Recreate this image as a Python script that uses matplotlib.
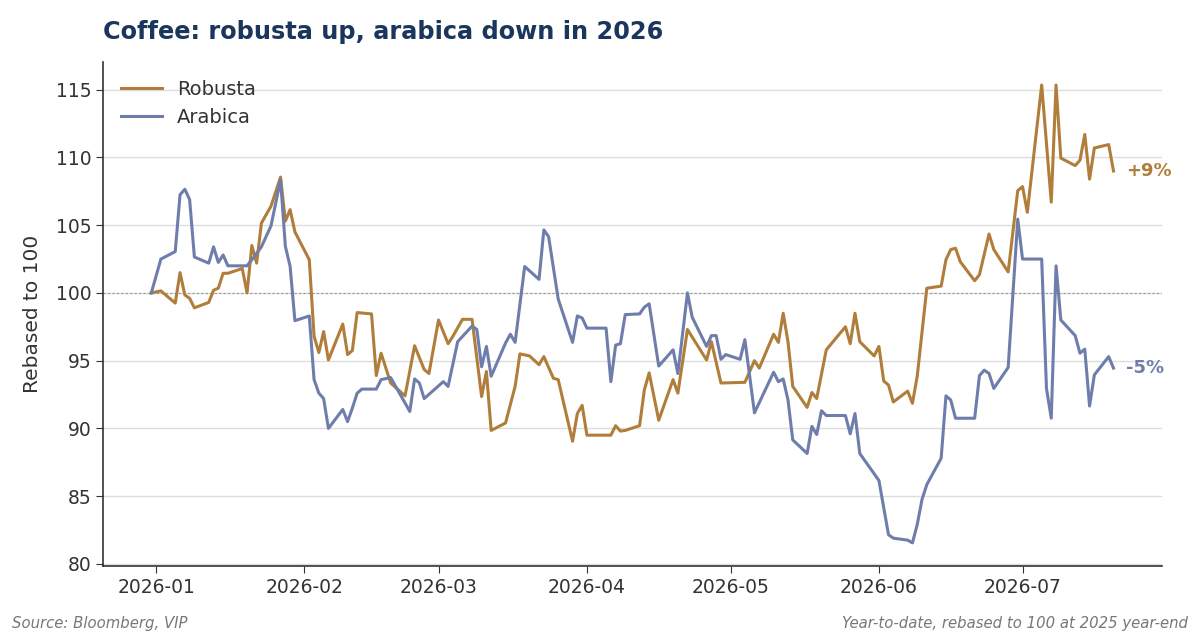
import matplotlib
matplotlib.use("Agg")
import matplotlib.pyplot as plt
import matplotlib.dates as mdates
import numpy as np

# Year-to-date, rebased to 100 at 2025 year-end
robusta_dates = [
    "2025-12-31", "2026-01-02", "2026-01-05", "2026-01-06", "2026-01-07", "2026-01-08",
    "2026-01-09", "2026-01-12", "2026-01-13", "2026-01-14", "2026-01-15", "2026-01-16",
    "2026-01-19", "2026-01-20", "2026-01-21", "2026-01-22", "2026-01-23", "2026-01-25",
    "2026-01-27", "2026-01-28", "2026-01-29", "2026-01-30", "2026-02-02", "2026-02-03",
    "2026-02-04", "2026-02-05", "2026-02-06", "2026-02-09", "2026-02-10", "2026-02-11",
    "2026-02-12", "2026-02-15", "2026-02-16", "2026-02-17", "2026-02-19", "2026-02-22",
    "2026-02-24", "2026-02-26", "2026-02-27", "2026-03-01", "2026-03-03", "2026-03-04",
    "2026-03-06", "2026-03-08", "2026-03-10", "2026-03-11", "2026-03-12", "2026-03-15",
    "2026-03-17", "2026-03-18", "2026-03-20", "2026-03-22", "2026-03-23", "2026-03-25",
    "2026-03-26", "2026-03-29", "2026-03-30", "2026-03-31", "2026-04-01", "2026-04-06",
    "2026-04-07", "2026-04-08", "2026-04-09", "2026-04-12", "2026-04-13", "2026-04-14",
    "2026-04-16", "2026-04-19", "2026-04-20", "2026-04-22", "2026-04-26", "2026-04-27",
    "2026-04-29", "2026-05-04", "2026-05-06", "2026-05-07", "2026-05-10", "2026-05-11",
    "2026-05-12", "2026-05-13", "2026-05-14", "2026-05-17", "2026-05-18", "2026-05-19",
    "2026-05-21", "2026-05-25", "2026-05-26", "2026-05-27", "2026-05-28", "2026-05-31",
    "2026-06-01", "2026-06-02", "2026-06-03", "2026-06-04", "2026-06-07", "2026-06-08",
    "2026-06-09", "2026-06-11", "2026-06-14", "2026-06-15", "2026-06-16", "2026-06-17",
    "2026-06-18", "2026-06-21", "2026-06-22", "2026-06-24", "2026-06-25", "2026-06-28",
    "2026-06-30", "2026-07-01", "2026-07-02", "2026-07-05", "2026-07-07", "2026-07-08",
    "2026-07-09", "2026-07-12", "2026-07-13", "2026-07-14", "2026-07-15", "2026-07-16",
    "2026-07-19", "2026-07-20",
]
robusta = [
    100.0, 100.15, 99.25, 101.5, 99.85, 99.6,
    98.9, 99.3, 100.2, 100.35, 101.45, 101.45,
    101.8, 100.0, 103.5, 102.2, 105.15, 106.4,
    108.55, 105.3, 106.15, 104.5, 102.45, 96.8,
    95.6, 97.15, 95.05, 97.7, 95.45, 95.75,
    98.55, 98.45, 93.9, 95.55, 93.35, 92.4,
    96.1, 94.35, 94.05, 98.0, 96.25, 96.8,
    98.05, 98.05, 92.35, 94.2, 89.85, 90.4,
    93.1, 95.5, 95.35, 94.7, 95.3, 93.7,
    93.6, 89.05, 91.1, 91.7, 89.5, 89.5,
    90.2, 89.8, 89.85, 90.2, 92.85, 94.1,
    90.6, 93.6, 92.6, 97.3, 95.05, 96.4,
    93.35, 93.4, 95.0, 94.45, 96.95, 96.35,
    98.5, 96.4, 93.1, 91.55, 92.65, 92.2,
    95.8, 97.5, 96.25, 98.5, 96.4, 95.35,
    96.05, 93.5, 93.2, 91.95, 92.75, 91.85,
    93.85, 100.35, 100.5, 102.45, 103.2, 103.3,
    102.3, 100.9, 101.35, 104.35, 103.2, 101.55,
    107.55, 107.85, 105.95, 115.35, 106.7, 115.35,
    109.95, 109.4, 109.8, 111.7, 108.4, 110.7,
    110.95, 109.0,
]

arabica_dates = [
    "2025-12-31", "2026-01-02", "2026-01-05", "2026-01-06", "2026-01-07", "2026-01-08",
    "2026-01-09", "2026-01-12", "2026-01-13", "2026-01-14", "2026-01-15", "2026-01-16",
    "2026-01-20", "2026-01-21", "2026-01-23", "2026-01-25", "2026-01-27", "2026-01-28",
    "2026-01-29", "2026-01-30", "2026-02-02", "2026-02-03", "2026-02-04", "2026-02-05",
    "2026-02-06", "2026-02-09", "2026-02-10", "2026-02-11", "2026-02-12", "2026-02-13",
    "2026-02-16", "2026-02-17", "2026-02-19", "2026-02-23", "2026-02-24", "2026-02-25",
    "2026-02-26", "2026-03-02", "2026-03-03", "2026-03-04", "2026-03-05", "2026-03-08",
    "2026-03-09", "2026-03-10", "2026-03-11", "2026-03-12", "2026-03-15", "2026-03-16",
    "2026-03-17", "2026-03-19", "2026-03-22", "2026-03-23", "2026-03-24", "2026-03-26",
    "2026-03-29", "2026-03-30", "2026-03-31", "2026-04-01", "2026-04-05", "2026-04-06",
    "2026-04-07", "2026-04-08", "2026-04-09", "2026-04-12", "2026-04-13", "2026-04-14",
    "2026-04-16", "2026-04-19", "2026-04-20", "2026-04-22", "2026-04-23", "2026-04-26",
    "2026-04-27", "2026-04-28", "2026-04-29", "2026-04-30", "2026-05-03", "2026-05-04",
    "2026-05-06", "2026-05-10", "2026-05-11", "2026-05-12", "2026-05-13", "2026-05-14",
    "2026-05-17", "2026-05-18", "2026-05-19", "2026-05-20", "2026-05-21", "2026-05-25",
    "2026-05-26", "2026-05-27", "2026-05-28", "2026-06-01", "2026-06-03", "2026-06-04",
    "2026-06-07", "2026-06-08", "2026-06-09", "2026-06-10", "2026-06-11", "2026-06-14",
    "2026-06-15", "2026-06-16", "2026-06-17", "2026-06-21", "2026-06-22", "2026-06-23",
    "2026-06-24", "2026-06-25", "2026-06-28", "2026-06-30", "2026-07-01", "2026-07-05",
    "2026-07-06", "2026-07-07", "2026-07-08", "2026-07-09", "2026-07-12", "2026-07-13",
    "2026-07-14", "2026-07-15", "2026-07-16", "2026-07-19", "2026-07-20",
]
arabica = [
    100.0, 102.5, 103.05, 107.25, 107.65, 106.9,
    102.65, 102.2, 103.4, 102.25, 102.8, 102.0,
    102.0, 102.45, 103.4, 104.95, 108.35, 103.45,
    101.95, 97.95, 98.3, 93.6, 92.6, 92.2,
    90.0, 91.4, 90.5, 91.5, 92.6, 92.9,
    92.9, 93.6, 93.75, 91.25, 93.65, 93.35,
    92.2, 93.45, 93.1, 94.75, 96.4, 97.55,
    97.3, 94.55, 96.05, 93.85, 96.3, 96.95,
    96.35, 101.95, 101.0, 104.65, 104.15, 99.55,
    96.35, 98.3, 98.15, 97.4, 97.4, 93.45,
    96.15, 96.25, 98.4, 98.45, 98.95, 99.2,
    94.6, 95.8, 94.05, 100.0, 98.2, 96.05,
    96.85, 96.85, 95.1, 95.45, 95.1, 96.55,
    91.15, 94.15, 93.45, 93.65, 92.1, 89.15,
    88.15, 90.15, 89.55, 91.3, 90.95, 90.95,
    89.6, 91.1, 88.15, 86.15, 82.15, 81.9,
    81.75, 81.55, 82.9, 84.75, 85.85, 87.8,
    92.4, 92.1, 90.75, 90.75, 93.9, 94.3,
    94.05, 92.95, 94.5, 105.45, 102.5, 102.5,
    92.95, 90.75, 102.0, 98.0, 96.85, 95.55,
    95.85, 91.65, 93.95, 95.3, 94.45,
]

robusta_color = "#B07E3A"
arabica_color = "#6E7DAB"
title_color = "#1B365D"
text_color = "#333333"

r_dates = np.array(robusta_dates, dtype="datetime64[D]")
a_dates = np.array(arabica_dates, dtype="datetime64[D]")

fig = plt.figure(figsize=(12, 6.4), dpi=100)
ax = fig.add_axes([0.086, 0.116, 0.882, 0.787])

ax.plot(r_dates, robusta, color=robusta_color, lw=2.2, label="Robusta")
ax.plot(a_dates, arabica, color=arabica_color, lw=2.2, label="Arabica")

ax.axhline(100, color="#999999", lw=0.8, ls=(0, (2, 2)), zorder=1)
ax.set_yticks(np.arange(80, 116, 5))
ax.grid(axis="y", color="#dddddd", lw=1)
ax.set_axisbelow(True)

ax.xaxis.set_major_locator(mdates.MonthLocator())
ax.xaxis.set_major_formatter(mdates.DateFormatter("%Y-%m"))
ax.tick_params(labelsize=13.5, colors=text_color, length=5)

for side in ["top", "right"]:
    ax.spines[side].set_visible(False)
for side in ["left", "bottom"]:
    ax.spines[side].set_color(text_color)
    ax.spines[side].set_linewidth(1.2)

ax.set_ylabel("Rebased to 100", fontsize=14.5, color=text_color, labelpad=10)

leg = ax.legend(loc="upper left", frameon=False, fontsize=14, handlelength=2.1)
for t in leg.get_texts():
    t.set_color(text_color)

# end labels
ax.annotate("+9%", xy=(r_dates[-1], robusta[-1]), xytext=(9, 0), textcoords="offset points",
            color=robusta_color, fontsize=13, fontweight="bold", va="center", annotation_clip=False)
ax.annotate("-5%", xy=(a_dates[-1], arabica[-1]), xytext=(9, 0), textcoords="offset points",
            color=arabica_color, fontsize=13, fontweight="bold", va="center", annotation_clip=False)

fig.text(0.086, 0.95, "Coffee: robusta up, arabica down in 2026", fontsize=17.3,
         fontweight="bold", color=title_color, va="center", ha="left")
fig.text(0.01, 0.018, "Source: Bloomberg, VIP", fontsize=10.7, style="italic", color="#777777")
fig.text(0.99, 0.018, "Year-to-date, rebased to 100 at 2025 year-end", fontsize=10.7,
         style="italic", color="#777777", ha="right")

fig.savefig("out.png", dpi=100)
